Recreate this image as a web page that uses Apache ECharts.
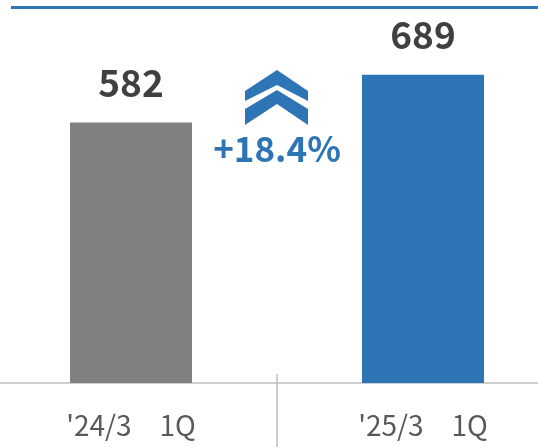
<!DOCTYPE html>
<html>
<head>
<meta charset="utf-8">
<script src="https://cdn.jsdelivr.net/npm/echarts@6/dist/echarts.min.js"></script>
<style>
  html, body { margin: 0; padding: 0; background: #fff; }
  #main { width: 538px; height: 447px; }
</style>
</head>
<body>
<div id="main"></div>
<script>
// data
const categories = ["'24/3\u30001Q", "'25/3\u30001Q"];
const values = [582, 689];
const barColors = ['#808080', '#2E75B6'];

const growth = ((values[1] / values[0] - 1) * 100).toFixed(1);

const chartDom = document.getElementById('main');
const myChart = echarts.init(chartDom);

const font = '"Noto Sans CJK JP", "Noto Sans", sans-serif';
const blue = '#2E75B6';

// chevrons (decoration)
const chevronTop = [[277, 70], [308, 91], [308, 101], [277, 85], [245, 101], [245, 91]];
const chevronBottom = [[277, 90], [308, 109], [308, 125], [277, 104], [245, 125], [245, 109]];

const option = {
  animation: false,
  grid: { left: -15, right: -31, top: 8, bottom: 64, containLabel: false, outerBoundsMode: 'none' },
  xAxis: [
    {
      type: 'category',
      data: categories,
      axisLine: { lineStyle: { color: '#BFBFBF', width: 1.5 } },
      axisTick: { show: true, length: 64, lineStyle: { color: '#BFBFBF', width: 1.5 } },
      axisLabel: { color: '#595959', fontSize: 28, fontFamily: font, margin: 28 }
    },
    {
      type: 'category',
      data: categories,
      position: 'bottom',
      axisLine: { show: false },
      axisTick: { show: true, inside: true, length: 9, lineStyle: { color: '#BFBFBF', width: 1.5 } },
      axisLabel: { show: false }
    }
  ],
  yAxis: {
    type: 'value',
    min: 0,
    max: 838,
    show: false,
    splitLine: { show: false }
  },
  series: [
    {
      type: 'bar',
      barWidth: 122,
      data: values.map((v, i) => ({ value: v, itemStyle: { color: barColors[i] } })),
      label: {
        show: true,
        position: 'top',
        distance: 21,
        color: '#404040',
        fontSize: 37,
        fontWeight: 'bold',
        fontFamily: font
      }
    }
  ],
  graphic: [
    {
      type: 'line',
      shape: { x1: 11, y1: 7.5, x2: 538, y2: 7.5 },
      style: { stroke: blue, lineWidth: 3 }
    },
    { type: 'polygon', shape: { points: chevronTop }, style: { fill: blue } },
    { type: 'polygon', shape: { points: chevronBottom }, style: { fill: blue } },
    {
      type: 'text',
      x: 277,
      y: 149,
      style: {
        text: '+' + growth + '%',
        fill: blue,
        fontSize: 35,
        fontWeight: 'bold',
        fontFamily: font,
        align: 'center',
        verticalAlign: 'middle'
      }
    }
  ]
};

option && myChart.setOption(option);
</script>
</body>
</html>
